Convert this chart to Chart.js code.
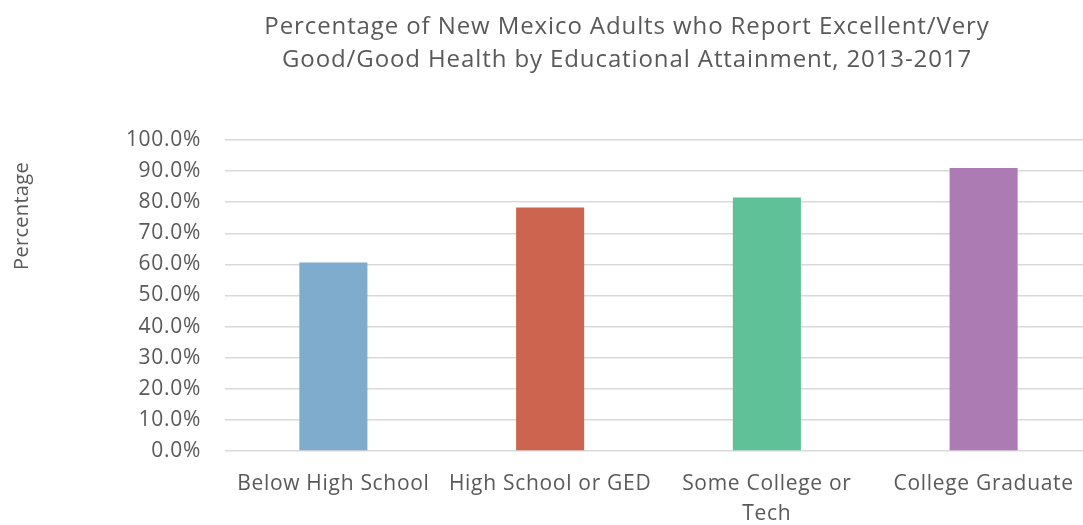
<!DOCTYPE html>
<html>
<head>
<meta charset="utf-8">
<script src="https://cdn.jsdelivr.net/npm/chart.js@4"></script>
<style>
html,body{margin:0;padding:0;background:#fff;overflow:hidden;}
#wrap{width:1092px;height:525px;}
</style>
</head>
<body>
<div id="wrap"><canvas id="c" width="1092" height="525"></canvas></div>
<script>
const titleLines = ['Percentage of New Mexico Adults who Report Excellent/Very', 'Good/Good Health by Educational Attainment, 2013-2017'];
const yAxisTitle = 'Percentage';
const categories = ['Below High School', 'High School or GED', ['Some College or', 'Tech'], 'College Graduate'];
const values = [60.6, 78.3, 81.5, 91.0];
const barColors = ['#7FACCD', '#CD6450', '#5FC197', '#AC7BB4'];

const FONT = '"Open Sans", "Noto Sans", sans-serif';
const TEXT = '#595959';

const textPlugin = {
  id: 'texts',
  beforeDraw(chart) {
    chart.ctx.letterSpacing = '0.7px';
  },
  afterDraw(chart) {
    const ctx = chart.ctx;
    ctx.save();
    ctx.fillStyle = TEXT;
    ctx.letterSpacing = '0.9px';
    ctx.font = '24px ' + FONT;
    ctx.textAlign = 'center';
    ctx.textBaseline = 'middle';
    ctx.fillText(titleLines[0], 627, 27);
    ctx.fillText(titleLines[1], 627, 60);
    ctx.letterSpacing = '0.3px';
    ctx.font = '20px ' + FONT;
    ctx.translate(22, 216);
    ctx.rotate(-Math.PI / 2);
    ctx.fillText(yAxisTitle, 0, 0);
    ctx.restore();
  }
};

new Chart(document.getElementById('c'), {
  type: 'bar',
  data: {
    labels: categories,
    datasets: [{
      data: values,
      backgroundColor: barColors,
      barPercentage: 0.314,
      categoryPercentage: 1.0
    }]
  },
  options: {
    responsive: false,
    animation: false,
    layout: { padding: { top: 140, left: 0, right: 0, bottom: 0 } },
    plugins: { legend: { display: false }, tooltip: { enabled: false }, title: { display: false } },
    scales: {
      x: {
        grid: { display: false, drawTicks: false },
        border: { display: false },
        ticks: { color: TEXT, font: { family: FONT, size: 21, lineHeight: 1.43 }, padding: 18, maxRotation: 0, autoSkip: false },
        afterFit(scale) { scale.height = 74; }
      },
      y: {
        min: 0, max: 100,
        grid: { color: '#d9d9d9', lineWidth: 1.5, drawTicks: false },
        border: { display: false },
        ticks: {
          stepSize: 10,
          color: TEXT,
          font: { family: FONT, size: 21 },
          padding: 24,
          callback: v => v.toFixed(1) + '%'
        },
        afterFit(scale) { scale.width = 225; }
      }
    }
  },
  plugins: [textPlugin]
});
</script>
</body>
</html>
